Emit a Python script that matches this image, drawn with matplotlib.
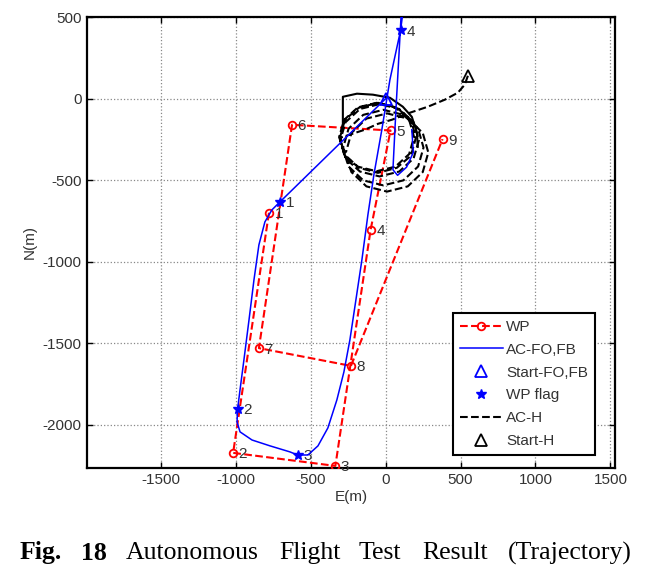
import matplotlib
matplotlib.use('Agg')
import matplotlib.pyplot as plt
from matplotlib.lines import Line2D

# waypoints (E, N) in metres
wp_e = [-778, -1017, -335, -100, 33, -624, -845, -231, 380]
wp_n = [-700, -2174, -2254, -805, -195, -160, -1531, -1640, -248]
wp_labels = ['1', '2', '3', '4', '5', '6', '7', '8', '9']

# aircraft track, FO/FB
ac_e = [0, -702, -758, -805, -845, -878, -911, -945, -971, -987, -991, -971, -891,
        -771, -638, -587, -518, -451, -385, -325, -278, -238, -198, -158, -118,
        -78, -25, 29, 100, 122, 128, 112, 102, 69, 49, 80, 140, 185, 175]
ac_n = [0, -631, -682, -756, -897, -1112, -1357, -1603, -1787, -1904, -1984, -2045,
        -2095, -2131, -2168, -2187, -2187, -2131, -2021, -1849, -1677, -1480,
        -1235, -989, -713, -467, -190, 117, 420, 577, 640, 640, 485, -68, -436,
        -470, -420, -330, -190]
start_fo = (0, 0)

# waypoint flags
flag_e = [-702, -987, -587, 100]
flag_n = [-631, -1904, -2187, 420]
flag_labels = ['1', '2', '3', '4']

# aircraft track, H (entry + loiter loops)
h_e = [549, 528, 482, 395, 282, 162, 42, -51, -138,
       -305, -271, -178, -51, 75, 169, 202, 169, 75, -51, -178, -271, -305,
       -267, -171, -40, 91, 187, 222, 187, 91, -40, -171, -267, -302,
       -277, -185, -60, 65, 157, 190, 157, 65, -60, -185, -277, -310,
       -247, -149, -15, 119, 217, 253, 217, 119, -15, -149, -247, -283,
       -228, -128, 10, 148, 248, 285, 248, 148, 10, -128, -228, -265]
h_n = [141, 86, 37, -6, -49, -86, -129, -154, -190,
       -240, -350, -424, -455, -424, -350, -240, -129, -55, -25, -55, -129, -240,
       -366, -447, -477, -447, -366, -255, -144, -63, -33, -63, -144, -255,
       -340, -417, -445, -417, -340, -235, -130, -53, -25, -53, -130, -235,
       -416, -501, -532, -501, -416, -300, -184, -99, -68, -99, -184, -300,
       -450, -538, -570, -538, -450, -330, -210, -122, -90, -122, -210, -330]
start_h = (549, 141)

# top arc drawn solid in the loiter
arc_e = [-285, -285, -191, -85, 29, 115, 175, 209, 215]
arc_n = [-172, 12, 31, 25, 6, -49, -111, -209, -295]

plt.rcParams['font.family'] = ['Liberation Sans', 'DejaVu Sans']
plt.rcParams['axes.unicode_minus'] = False

fig = plt.figure(figsize=(6.45, 5.82), dpi=100)
ax = fig.add_axes([0.1353, 0.1964, 0.8181, 0.7739])

red = '#ff0000'
blue = '#0000ff'
txt = '#333333'

ax.plot(wp_e, wp_n, '--', color=red, lw=1.5, marker='o', ms=5.5, mfc='none',
        mec=red, mew=1.3, zorder=3)
for e, n, t in zip(wp_e, wp_n, wp_labels):
    ax.annotate(t, (e, n), xytext=(4, -1), textcoords='offset points',
                ha='left', va='center', fontsize=11, color=txt)

ax.plot(ac_e, ac_n, '-', color=blue, lw=1.1, zorder=4)
ax.plot(flag_e, flag_n, '*', color=blue, ms=7, zorder=5)
for e, n, t in zip(flag_e, flag_n, flag_labels):
    ax.annotate(t, (e, n), xytext=(4, -1), textcoords='offset points',
                ha='left', va='center', fontsize=11, color=txt)
ax.plot(*start_fo, '^', ms=8, mfc='none', mec=blue, mew=1.3, zorder=5)

ax.plot(h_e, h_n, '--', color='black', lw=1.5, zorder=3)
ax.plot(arc_e, arc_n, '-', color='black', lw=1.5, zorder=3)
ax.plot(*start_h, '^', ms=9, mfc='none', mec='black', mew=1.3, zorder=5)

ax.set_xlim(-1990, 1530)
ax.set_ylim(-2265, 500)
ax.set_xticks([-1500, -1000, -500, 0, 500, 1000, 1500])
ax.set_yticks([-2000, -1500, -1000, -500, 0, 500])
ax.grid(True, linestyle=':', color='#888888', lw=0.9)
ax.tick_params(direction='in', length=4, width=1, top=True, right=True,
               labelsize=11, labelcolor=txt, pad=4)
for s in ax.spines.values():
    s.set_linewidth(1.6)
ax.set_xlabel('E(m)', fontsize=11, color=txt, labelpad=2)
ax.set_ylabel('N(m)', fontsize=11, color=txt, labelpad=4)

handles = [
    Line2D([], [], ls='--', color=red, lw=1.5, marker='o', ms=5.5, mfc='none', mew=1.3),
    Line2D([], [], ls='-', color=blue, lw=1.1),
    Line2D([], [], ls='none', marker='^', ms=9, mfc='none', mec=blue, mew=1.3),
    Line2D([], [], ls='none', marker='*', ms=7, color=blue),
    Line2D([], [], ls='--', color='black', lw=1.5),
    Line2D([], [], ls='none', marker='^', ms=9, mfc='none', mec='black', mew=1.3),
]
names = ['WP', 'AC-FO,FB', 'Start-FO,FB', 'WP flag', 'AC-H', 'Start-H']
leg = ax.legend(handles, names, loc='upper left', bbox_to_anchor=(0.693, 0.3435),
                borderaxespad=0, fontsize=11, labelspacing=0.58, borderpad=0.45,
                handlelength=2.8, handletextpad=0.25, fancybox=False, framealpha=1,
                edgecolor='black')
leg.get_frame().set_linewidth(1.5)
for t in leg.get_texts():
    t.set_color(txt)

# caption, spread out like the justified line in the paper
cap_y = 1 - 553 / 582
words = ['Fig.', '18', 'Autonomous', 'Flight', 'Test', 'Result', '(Trajectory)']
word_x = [20, 81, 126, 279, 359, 422, 508]
for w, x in zip(words, word_x):
    bold = w in ('Fig.', '18')
    fig.text(x / 645, cap_y, w, fontsize=18.5, family='Liberation Serif',
             fontweight='bold' if bold else 'normal', ha='left', va='center')

fig.savefig('out.png', dpi=100)
